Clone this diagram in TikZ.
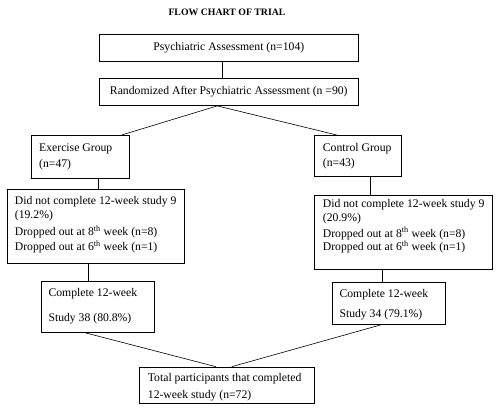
\documentclass[tikz,border=0pt]{standalone}
\usepackage{fontspec}
\setmainfont{Liberation Serif}
\begin{document}
\begin{tikzpicture}[x=1pt,y=-1pt,
  box/.style={draw=black, line width=0.6pt, anchor=north west, inner sep=0pt},
  txt/.style={anchor=base west, inner sep=0pt, font=\fontsize{11.7}{14}\selectfont},
  ctxt/.style={anchor=base, inner sep=0pt, font=\fontsize{11.7}{14}\selectfont},
  conn/.style={draw=black, line width=0.6pt}]
\useasboundingbox[fill=white] (0,0) rectangle (500,411);
% title
\node[anchor=base, inner sep=0pt, font=\bfseries\fontsize{9.8}{12}\selectfont] (title) at (227,15.5) {FLOW CHART OF TRIAL};
% boxes
\node[box, minimum width=259pt, minimum height=26.7pt] (b1) at (99.3,34.3) {};
\node[box, minimum width=259pt, minimum height=27pt] (b2) at (99.3,78.3) {};
\node[box, minimum width=98.6pt, minimum height=42.7pt] (ex) at (30.7,135) {};
\node[box, minimum width=86.4pt, minimum height=40.7pt] (ct) at (314.3,135) {};
\node[box, minimum width=177.3pt, minimum height=74.3pt] (d1) at (6.7,188.7) {};
\node[box, minimum width=178pt, minimum height=74pt] (d2) at (314.3,195) {};
\node[box, minimum width=113.3pt, minimum height=51pt] (c1) at (40.7,280.7) {};
\node[box, minimum width=113.3pt, minimum height=42.3pt] (c2) at (331.7,281.7) {};
\node[box, minimum width=174.7pt, minimum height=36.6pt] (tot) at (139.3,366.7) {};
% texts
\node[ctxt] (t1) at (228.8,50.7) {Psychiatric Assessment (n=104)};
\node[ctxt] (t2) at (228.8,94.7) {Randomized After Psychiatric Assessment (n =90)};
\node[txt] (tex1) at (39,151.3) {Exercise Group};
\node[txt] (tex2) at (39,167.3) {(n=47)};
\node[txt] (tct1) at (322.7,151.3) {Control Group};
\node[txt] (tct2) at (322.7,166.3) {(n=43)};
\node[txt] (td11) at (14.7,204.7) {Did not complete 12-week study 9};
\node[txt] (td12) at (14.7,218.7) {(19.2\%)};
\node[txt] (td13) at (14.7,235.7) {Dropped out at 8\textsuperscript{th} week (n=8)};
\node[txt] (td14) at (14.7,250.7) {Dropped out at 6\textsuperscript{th} week (n=1)};
\node[txt] (td21) at (322.7,208) {Did not complete 12-week study 9};
\node[txt] (td22) at (322.7,221.7) {(20.9\%)};
\node[txt] (td23) at (322.7,237.3) {Dropped out at 8\textsuperscript{th} week (n=8)};
\node[txt] (td24) at (322.7,250.7) {Dropped out at 6\textsuperscript{th} week (n=1)};
\node[txt] (tc11) at (48.3,296.7) {Complete 12-week};
\node[txt] (tc12) at (48.3,321.3) {Study 38 (80.8\%)};
\node[txt] (tc21) at (339.3,297.3) {Complete 12-week};
\node[txt] (tc22) at (339.3,317.3) {Study 34 (79.1\%)};
\node[txt] (tt1) at (147.7,381.7) {Total participants that completed};
\node[txt] (tt2) at (147.7,398.3) {12-week study (n=72)};
% connectors
\draw[conn] (b1.south -| 222.7,0) -- (b2.north -| 222.7,0);
\draw[conn] (b2.south -| 217.3,0) -- (ex.north -| 121.7,0);
\draw[conn] (b2.south -| 217.3,0) -- (ct.north -| 336.7,0);
\draw[conn] (ex.south -| 98.3,0) -- (d1.north -| 98.3,0);
\draw[conn] (ct.south -| 370,0) -- (d2.north -| 370,0);
\draw[conn] (d1.south -| 88,0) -- (c1.north -| 88,0);
\draw[conn] (d2.south -| 382.5,0) -- (c2.north -| 382.5,0);
\draw[conn] (c1.south -| 83.3,0) -- (tot.north -| 216,0);
\draw[conn] (c2.south -| 381.7,0) -- (tot.north -| 231.7,0);
\end{tikzpicture}
\end{document}
